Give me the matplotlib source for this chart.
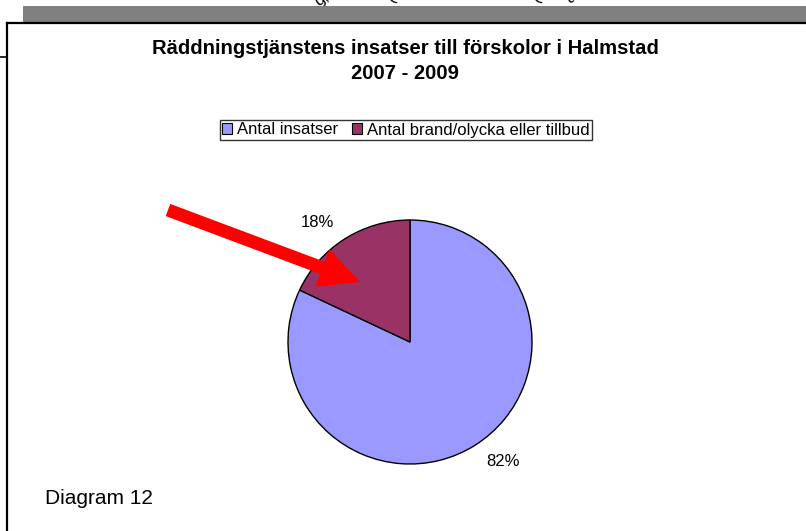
import matplotlib
matplotlib.use("Agg")
import matplotlib.pyplot as plt
import matplotlib.patches as mpatches
from matplotlib.lines import Line2D

# ========== data ==========
categories = ['Antal insatser', 'Antal brand/olycka eller tillbud']
shares = [82, 18]
colors = ['#9999FF', '#993366']
title_text = 'Räddningstjänstens insatser till förskolor i Halmstad\n2007 - 2009'
footer_text = 'Diagram 12'

W, H = 806, 531
plt.rcParams['font.family'] = ['Liberation Sans', 'DejaVu Sans']

fig = plt.figure(figsize=(W / 100, H / 100), dpi=100)


def px_axes(x0, y0, w, h, zorder=0):
    """axes positioned in pixel coords measured from the top-left corner"""
    return fig.add_axes([x0 / W, 1 - (y0 + h) / H, w / W, h / H], zorder=zorder)


# background: grey band and black frame of the chart area
bg = px_axes(0, 0, W, H, zorder=0)
bg.set_xlim(0, W)
bg.set_ylim(H, 0)
bg.axis('off')

# clipped bits of rotated text peeking out above the grey band (drawn underneath it)
for x, y, s, rot in [(322, -1, 'g,', 35), (391, -3, '(', 40), (536, -3, '(', 40), (571, -2, 'a', 40)]:
    bg.text(x, y, s, rotation=rot, fontsize=12, ha='center', va='center', zorder=1)

bg.add_patch(mpatches.Rectangle((23, 6), W - 23, 16, facecolor='#808080', edgecolor='none', zorder=2))
bg.add_patch(mpatches.Rectangle((7, 23), W - 7, H - 23, facecolor='white', edgecolor='none', zorder=2))
bg.add_line(Line2D([7, W], [23, 23], color='black', lw=1.6, zorder=3))
bg.add_line(Line2D([7, 7], [23, H], color='black', lw=1.6, zorder=3))
bg.add_line(Line2D([0, 7], [57, 57], color='black', lw=1.2, zorder=3))

# pie
cx, cy, r = 410, 342, 122
ax = px_axes(cx - r, cy - r, 2 * r, 2 * r, zorder=1)
wedges, _, autotexts = ax.pie(shares, colors=colors, startangle=90, counterclock=False,
                              autopct='%1.0f%%', pctdistance=1.16,
                              wedgeprops=dict(edgecolor='black', linewidth=1.0),
                              textprops=dict(fontsize=12))
# excel style: labels sit outside the edge, aligned away from the pie
for t in autotexts:
    t.set_ha('left' if t.get_position()[0] > 0 else 'right')
ax.set_xlim(-1, 1)
ax.set_ylim(-1, 1)
ax.set_aspect('equal')

# title
fig.text(405 / W, 1 - 61 / H, title_text, ha='center', va='center', fontsize=14.6,
         fontweight='bold', linespacing=1.4)

# legend
leg = fig.legend(wedges, categories, loc='center', bbox_to_anchor=(406 / W, 1 - 130 / H),
                 ncol=2, fontsize=12, frameon=True, fancybox=False, handlelength=0.6,
                 handleheight=0.6, handletextpad=0.3, columnspacing=0.8,
                 borderpad=0.15, borderaxespad=0)
leg.get_frame().set_edgecolor('black')
leg.get_frame().set_linewidth(1.0)
for h in leg.legend_handles:
    h.set_edgecolor('black')
    h.set_linewidth(0.8)

fig.text(45 / W, 1 - 498 / H, footer_text, ha='left', va='center', fontsize=15)

# red arrow on top of the pie
top = px_axes(0, 0, W, H, zorder=3)
top.set_xlim(0, W)
top.set_ylim(H, 0)
top.axis('off')
top.patch.set_alpha(0)
top.add_patch(mpatches.FancyArrow(168, 210, 192, 72, width=13, head_width=40, head_length=40,
                                  length_includes_head=True, color='#FF0000', lw=0))

plt.savefig('out.png', dpi=100)
